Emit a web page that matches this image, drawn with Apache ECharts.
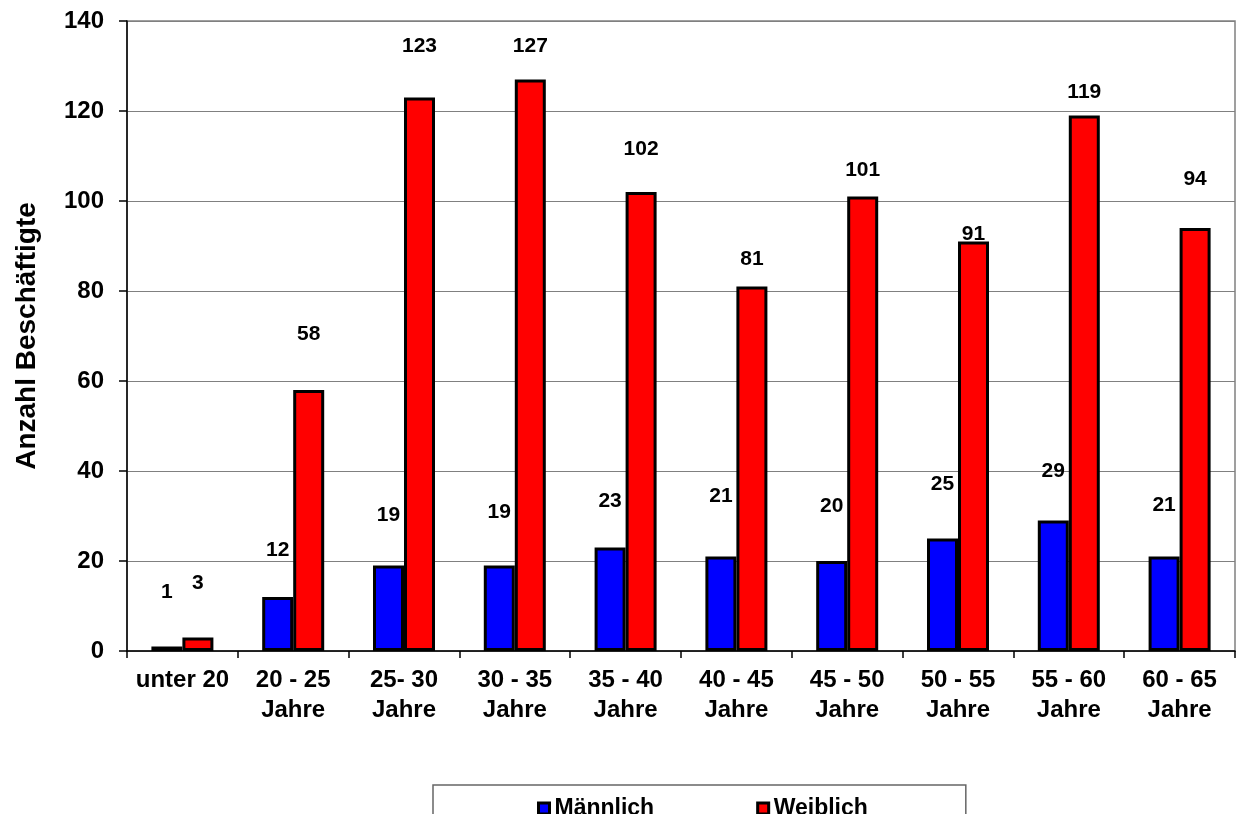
<!DOCTYPE html>
<html>
<head>
<meta charset="utf-8">
<script src="https://cdn.jsdelivr.net/npm/echarts@6/dist/echarts.min.js"></script>
<style>
html,body{margin:0;padding:0;background:#fff;}
#chart{width:1240px;height:814px;}
</style>
</head>
<body>
<div id="chart"></div>
<script>
// ---- data ----
const categories = ['unter 20', '20 - 25\nJahre', '25- 30\nJahre', '30 - 35\nJahre', '35 - 40\nJahre',
  '40 - 45\nJahre', '45 - 50\nJahre', '50 - 55\nJahre', '55 - 60\nJahre', '60 - 65\nJahre'];
const maleValues = [1, 12, 19, 19, 23, 21, 20, 25, 29, 21];
const femaleValues = [3, 58, 123, 127, 102, 81, 101, 91, 119, 94];
const seriesNames = ['Männlich', 'Weiblich'];
const yAxisTitle = 'Anzahl Beschäftigte';

// ---- label placement (px above bar top, as in the original layout) ----
const maleLabelDist = [44, 36, 40, 43, 36, 50, 44, 44, 39, 41];
const femaleLabelDist = [44, 45, 41, 23, 32, 17, 16, -3, 13, 38];

const FONT = 'Liberation Sans, Arial, Helvetica, sans-serif';

function withLabels(values, dists) {
  return values.map((v, i) => ({ value: v, label: { distance: dists[i] } }));
}

const labelStyle = {
  show: true,
  position: 'top',
  color: '#000',
  fontFamily: FONT,
  fontWeight: 'bold',
  fontSize: 21,
  lineHeight: 21
};

const chart = echarts.init(document.getElementById('chart'), null, { renderer: 'canvas' });
chart.setOption({
  backgroundColor: '#fff',
  animation: false,
  textStyle: { fontFamily: FONT },
  grid: {
    left: 127, right: 5, top: 21, bottom: 163,
    show: true, borderColor: '#808080', borderWidth: 1.5, backgroundColor: 'transparent'
  },
  legend: {
    data: seriesNames,
    left: 433, top: 785,
    orient: 'horizontal',
    padding: [12, 98, 30, 104],
    itemGap: 102,
    itemWidth: 11, itemHeight: 11,
    icon: 'rect',
    borderColor: '#666', borderWidth: 1.5,
    itemStyle: { borderColor: '#000', borderWidth: 3 },
    textStyle: { color: '#000', fontFamily: FONT, fontWeight: 'bold', fontSize: 23 }
  },
  xAxis: {
    type: 'category',
    data: categories,
    axisLine: { show: true, lineStyle: { color: '#000', width: 1.5 } },
    axisTick: { show: true, alignWithLabel: false, length: 7, lineStyle: { color: '#000', width: 1.5 } },
    axisLabel: {
      interval: 0, margin: 14, color: '#000', fontFamily: FONT, fontWeight: 'bold',
      fontSize: 24, lineHeight: 30
    },
    splitLine: { show: false }
  },
  yAxis: {
    type: 'value',
    min: 0, max: 140, interval: 20,
    name: yAxisTitle,
    nameLocation: 'middle',
    nameGap: 86,
    nameTextStyle: { color: '#000', fontFamily: FONT, fontWeight: 'bold', fontSize: 28 },
    axisLine: { show: true, lineStyle: { color: '#000', width: 1.5 } },
    axisTick: { show: true, length: 8, lineStyle: { color: '#000', width: 1.5 } },
    axisLabel: { margin: 23, color: '#000', fontFamily: FONT, fontWeight: 'bold', fontSize: 24 },
    splitLine: { show: true, lineStyle: { color: '#808080', width: 1.2 } }
  },
  series: [
    {
      name: seriesNames[0],
      type: 'bar',
      barWidth: 31,
      barGap: '0%',
      data: withLabels(maleValues, maleLabelDist),
      itemStyle: { color: '#0000FF', borderColor: '#000', borderWidth: 3 },
      label: labelStyle
    },
    {
      name: seriesNames[1],
      type: 'bar',
      barWidth: 31,
      barGap: '0%',
      data: withLabels(femaleValues, femaleLabelDist),
      itemStyle: { color: '#FF0000', borderColor: '#000', borderWidth: 3 },
      label: labelStyle
    }
  ]
});
</script>
</body>
</html>
